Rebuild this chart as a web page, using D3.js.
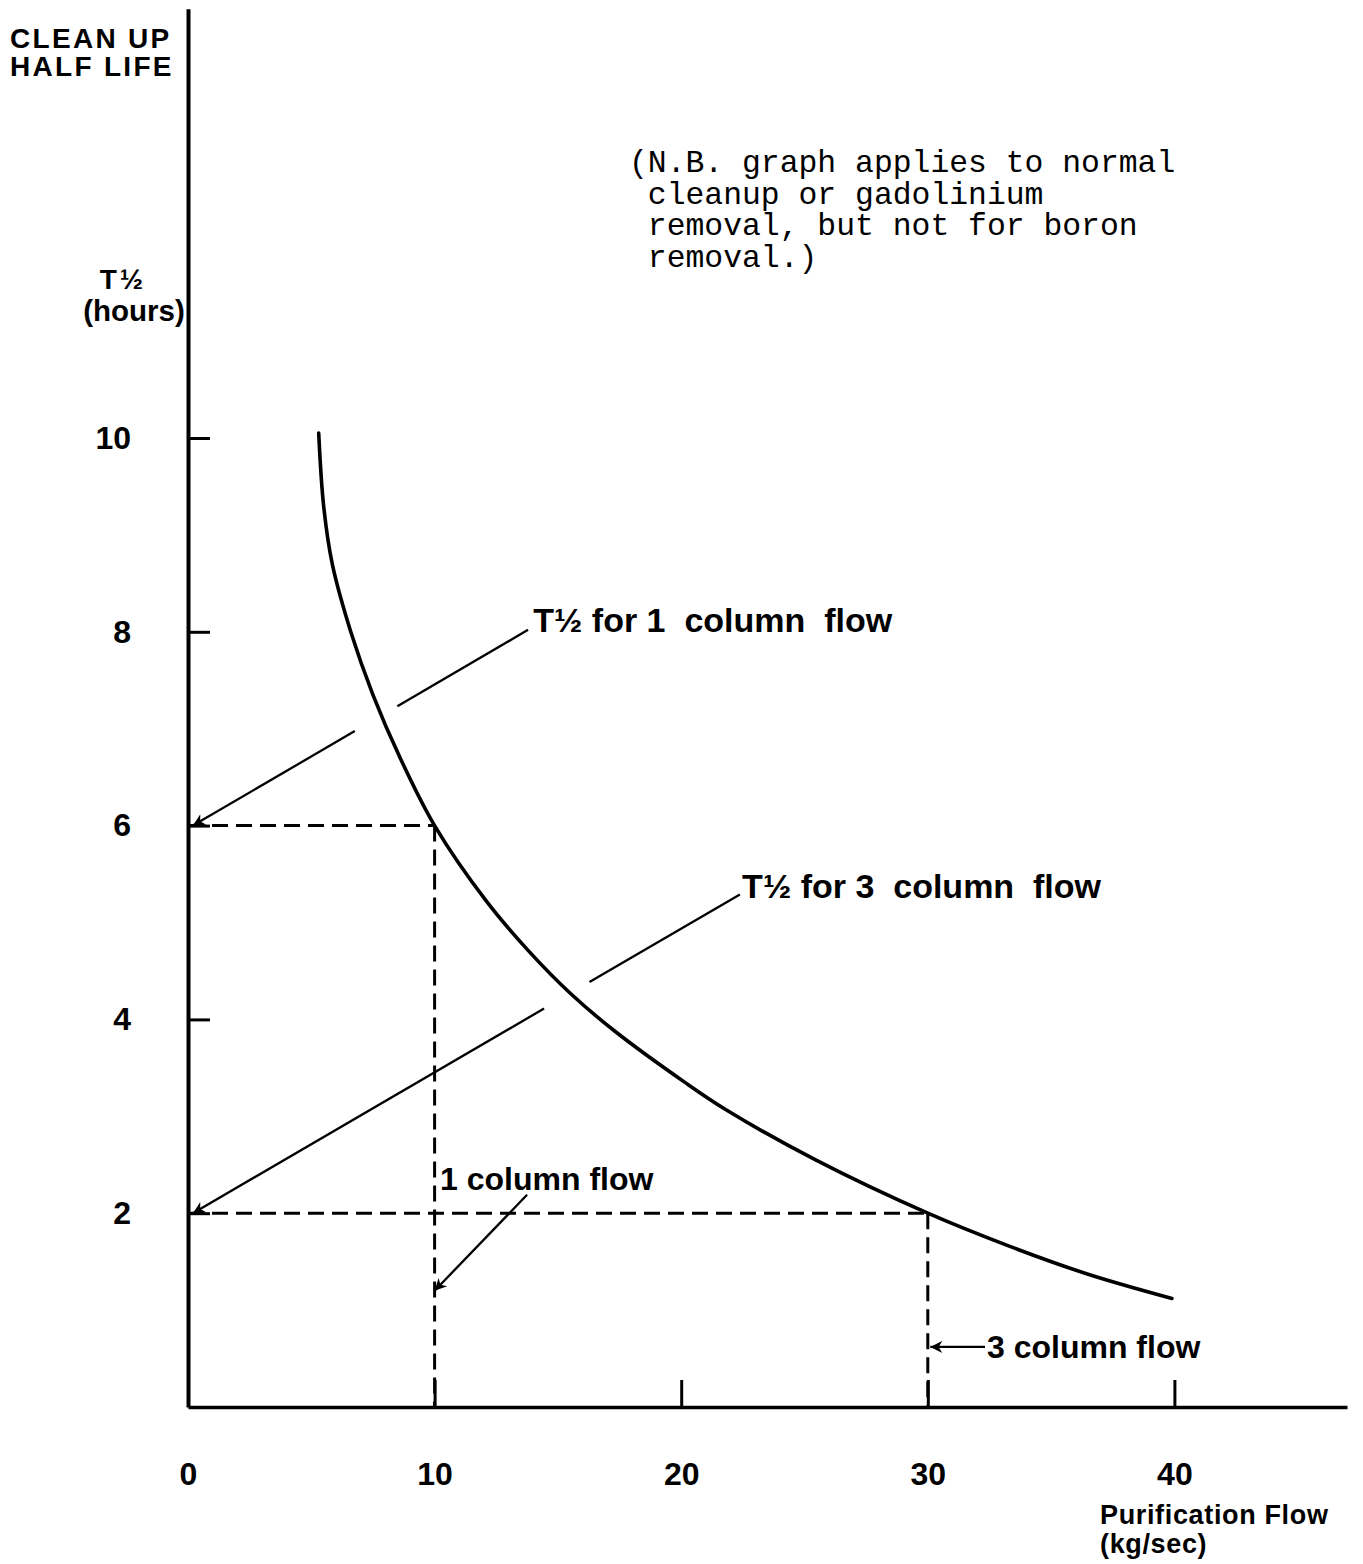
<!DOCTYPE html>
<html><head><meta charset="utf-8">
<script src="https://cdn.jsdelivr.net/npm/d3@7"></script>
<style>
body{margin:0;background:#fff}
text{white-space:pre}
</style>
</head><body>
<svg id="chart" width="1363" height="1564"></svg>
<script>
// ---- data ----
const flow     = [5.3, 5.5, 5.85, 6.6, 7.5, 8.6, 10, 12.1, 13.8, 15.5, 17.3, 20.15, 21.8, 25.45, 30, 33.3, 36.5, 39.9];
const halfLife = [10.05, 9.3, 8.7, 8.0, 7.35, 6.7, 6.0, 5.22, 4.71, 4.27, 3.88, 3.35, 3.07, 2.55, 2.0, 1.66, 1.37, 1.12];
const xTicks = [0, 10, 20, 30, 40];
const yTicks = [2, 4, 6, 8, 10];
const refFlow = [10, 30];
const refHalfLife = [6, 2];
const yTitle = ["CLEAN UP", "HALF LIFE"];
const yUnit = ["T½", "(hours)"];
const xTitle = ["Purification Flow", "(kg/sec)"];
const note = ["(N.B. graph applies to normal", " cleanup or gadolinium", " removal, but not for boron", " removal.)"];
const leaderLabels = ["T½ for 1  column  flow", "T½ for 3  column  flow", "1 column flow", "3 column flow"];
const leaderLabelAt = [[14.0, 8.0], [22.47, 5.25], [10.22, 2.24], [32.4, 0.51]];
const leaderFrom = [[13.79, 8.02], [22.38, 5.29], [13.75, 2.19], [32.32, 0.62]];
const leaderTo = [[0.2, 6.0], [0.2, 2.0], [10.0, 1.2], [30.1, 0.62]];
const leaderGaps = [[0.39, 0.517], [0.275, 0.358], null, null];

// ---- scales ----
const x = d3.scaleLinear().domain([0, 47]).range([188, 188 + 47 * 24.66]);
const y = d3.scaleLinear().domain([0, 14.43]).range([1407, 1407 - 14.43 * 96.9]);

const svg = d3.select("#chart");
const SANS = "'Liberation Sans', Arial, Helvetica, sans-serif";
const MONO = "'Liberation Mono', 'Courier New', monospace";

svg.append("defs").append("marker")
  .attr("id", "arrow").attr("viewBox", "0 0 10 10")
  .attr("refX", 10).attr("refY", 5)
  .attr("markerWidth", 20).attr("markerHeight", 12)
  .attr("markerUnits", "userSpaceOnUse").attr("orient", "auto")
  .append("path").attr("d", "M0,0L10,5L0,10L3,5Z").attr("fill", "#000");

// ---- axes ----
const gx = svg.append("g").attr("transform", `translate(0,${y(0)})`)
  .call(d3.axisBottom(x).tickValues(xTicks).tickSizeInner(-27).tickSizeOuter(0).tickPadding(55));
gx.select(".domain").attr("stroke", "#000").attr("stroke-width", 3.5);
gx.selectAll(".tick line").attr("stroke", "#000").attr("stroke-width", 3);
gx.selectAll(".tick text").attr("font-family", SANS).attr("font-weight", "bold")
  .attr("font-size", 32).attr("fill", "#000");

const gy = svg.append("g").attr("transform", `translate(${x(0)},0)`)
  .call(d3.axisLeft(y).tickValues(yTicks).tickSizeInner(-22).tickSizeOuter(0).tickPadding(57));
gy.select(".domain").attr("stroke", "#000").attr("stroke-width", 4);
gy.selectAll(".tick line").attr("stroke", "#000").attr("stroke-width", 3);
gy.selectAll(".tick text").attr("font-family", SANS).attr("font-weight", "bold")
  .attr("font-size", 32).attr("fill", "#000");

// ---- dashed reference lines ----
const refs = refFlow.map((f, i) => ({f, t: refHalfLife[i]}));
const gRef = svg.append("g").attr("stroke", "#000").attr("stroke-width", 3)
  .attr("stroke-dasharray", "16,8").attr("fill", "none");
refs.forEach(r => {
  gRef.append("line").attr("x1", x(0)).attr("y1", y(r.t)).attr("x2", x(r.f)).attr("y2", y(r.t));
  gRef.append("line").attr("x1", x(r.f)).attr("y1", y(r.t)).attr("x2", x(r.f)).attr("y2", y(0));
});

// ---- curve ----
const pts = flow.map((f, i) => [f, halfLife[i]]);
svg.append("path").datum(pts)
  .attr("fill", "none").attr("stroke", "#000").attr("stroke-width", 3.6)
  .attr("stroke-linecap", "round")
  .attr("d", d3.line().x(d => x(d[0])).y(d => y(d[1])).curve(d3.curveCatmullRom.alpha(0.5)));

// ---- leaders ----
const gL = svg.append("g").attr("stroke", "#000").attr("stroke-width", 2.3).attr("fill", "none");
leaderFrom.forEach((a, i) => {
  const b = leaderTo[i];
  const p = t => [x(a[0] + (b[0] - a[0]) * t), y(a[1] + (b[1] - a[1]) * t)];
  const gap = leaderGaps[i];
  if (gap) {
    const s1 = p(gap[0]), s2 = p(gap[1]);
    gL.append("line").attr("x1", x(a[0])).attr("y1", y(a[1])).attr("x2", s1[0]).attr("y2", s1[1]);
    gL.append("line").attr("x1", s2[0]).attr("y1", s2[1]).attr("x2", x(b[0])).attr("y2", y(b[1]))
      .attr("marker-end", "url(#arrow)");
  } else {
    gL.append("line").attr("x1", x(a[0])).attr("y1", y(a[1])).attr("x2", x(b[0])).attr("y2", y(b[1]))
      .attr("marker-end", "url(#arrow)");
  }
});
leaderLabels.forEach((s, i) => {
  svg.append("text").attr("x", x(leaderLabelAt[i][0])).attr("y", y(leaderLabelAt[i][1]))
    .attr("font-family", SANS).attr("font-weight", "bold")
    .attr("font-size", i < 2 ? 34 : 32).attr("fill", "#000").text(s);
});

// ---- titles ----
yTitle.forEach((s, i) => {
  svg.append("text").attr("x", 10).attr("y", 48 + i * 28)
    .attr("font-family", SANS).attr("font-weight", "bold").attr("font-size", 28)
    .attr("letter-spacing", 2.3).attr("fill", "#000").text(s);
});
svg.append("text").attr("x", 123).attr("y", 289).attr("text-anchor", "middle")
  .attr("font-family", SANS).attr("font-weight", "bold").attr("font-size", 28)
  .attr("letter-spacing", 3).attr("fill", "#000").text(yUnit[0]);
svg.append("text").attr("x", 134).attr("y", 321).attr("text-anchor", "middle")
  .attr("font-family", SANS).attr("font-weight", "bold").attr("font-size", 29.5)
  .attr("fill", "#000").text(yUnit[1]);
xTitle.forEach((s, i) => {
  svg.append("text").attr("x", 1100).attr("y", 1524 + i * 29)
    .attr("font-family", SANS).attr("font-weight", "bold").attr("font-size", 27)
    .attr("letter-spacing", 0.65).attr("fill", "#000").text(s);
});
note.forEach((s, i) => {
  svg.append("text").attr("x", 629).attr("y", 172 + i * 31.7)
    .attr("font-family", MONO).attr("font-size", 31.4).attr("fill", "#000").text(s);
});
</script>
</body></html>
